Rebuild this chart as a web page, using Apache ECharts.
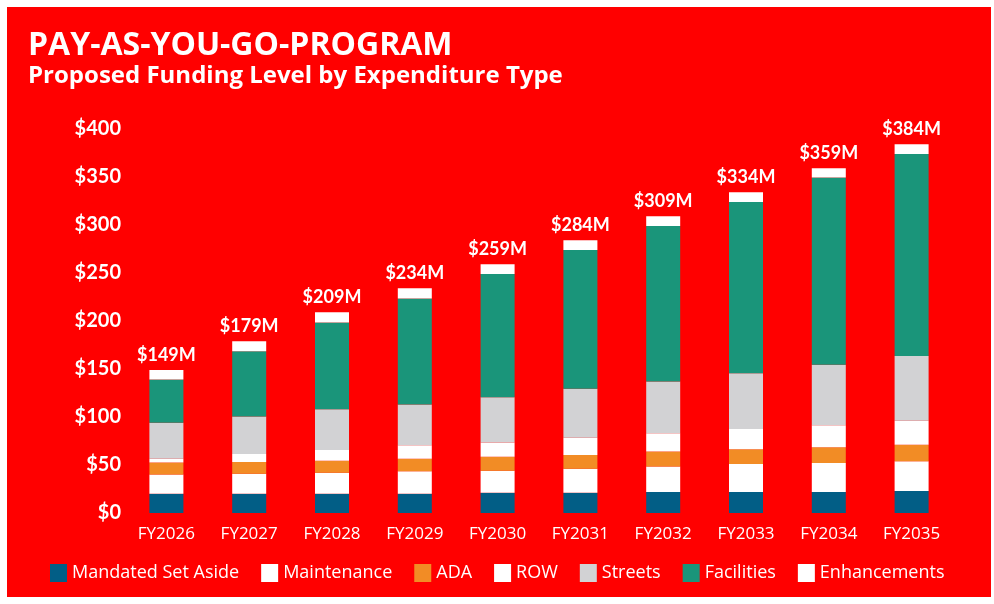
<!DOCTYPE html>
<html>
<head>
<meta charset="utf-8">
<title>PAY-AS-YOU-GO-PROGRAM</title>
<script src="https://cdn.jsdelivr.net/npm/echarts@6/dist/echarts.min.js"></script>
<style>
html, body { margin: 0; padding: 0; background: #fff; }
#main { position: absolute; left: 7px; top: 7px; width: 984px; height: 590px; }
</style>
</head>
<body>
<div id="main"></div>
<script>
// data, $M
var years = ['FY2026', 'FY2027', 'FY2028', 'FY2029', 'FY2030', 'FY2031', 'FY2032', 'FY2033', 'FY2034', 'FY2035'];
var mandated = [20, 20, 20, 20, 21, 21, 22, 22, 22, 23];
var maintenance = [20, 21, 22, 23.5, 23, 25, 26.5, 29, 30, 31];
var ada = [12.5, 12, 12.5, 13, 14.5, 14.5, 15.5, 15.5, 16.5, 17];
var row = [4, 8.5, 11, 14, 15, 18, 19, 21, 23, 25];
var streets = [37.5, 39, 42.5, 42.5, 47, 51, 54, 58, 63, 67.5];
var facilities = [45, 68, 90.5, 110.5, 128.5, 144.5, 162, 178.5, 195, 210.5];
var enhancements = [10, 10.5, 10.5, 10.5, 10, 10, 10, 10, 9.5, 10];
var totals = [149, 179, 209, 234, 259, 284, 309, 334, 359, 384];

var FONT = 'Lato';
var FONT2 = 'Open Sans';

//一段堆叠柱
function seg(name, data, color, label) {
	var s = {
		name: name,
		type: 'bar',
		stack: 'total',
		barWidth: 34,
		data: data,
		itemStyle: { color: color },
		emphasis: { disabled: true }
	};
	if (label) {
		s.label = {
			show: true,
			position: 'top',
			distance: 6,
			color: '#fff',
			fontFamily: FONT,
			fontWeight: 'bold',
			fontSize: 18,
			formatter: function(p) { return '$' + totals[p.dataIndex] + 'M'; }
		};
	}
	return s;
}

var myChart = echarts.init(document.getElementById('main'));
myChart.setOption({
	backgroundColor: '#FF0000',
	animation: false,
	title: {
		text: 'PAY-AS-YOU-GO-PROGRAM',
		subtext: 'Proposed Funding Level by Expenditure Type',
		left: 16,
		top: 18,
		itemGap: 2,
		textStyle: { color: '#fff', fontFamily: FONT2, fontWeight: 'bold', fontSize: 32 },
		subtextStyle: { color: '#fff', fontFamily: FONT2, fontWeight: 'bold', fontSize: 24 }
	},
	legend: {
		left: 38,
		top: 552,
		icon: 'rect',
		itemWidth: 17,
		itemHeight: 18,
		itemGap: 22,
		textStyle: { color: '#fff', fontFamily: FONT2, fontSize: 18 },
		data: ['Mandated Set Aside', 'Maintenance', 'ADA', 'ROW', 'Streets', 'Facilities', 'Enhancements']
	},
	grid: { left: 118, right: 38, top: 122, bottom: 84 },
	xAxis: {
		type: 'category',
		data: years,
		axisLine: { show: false },
		axisTick: { show: false },
		axisLabel: { color: '#fff', fontFamily: FONT2, fontSize: 17, margin: 13 }
	},
	yAxis: {
		type: 'value',
		min: 0,
		max: 400,
		interval: 50,
		splitLine: { show: false },
		axisLine: { show: false },
		axisLabel: {
			color: '#fff', fontFamily: FONT, fontWeight: 'bold', fontSize: 20, margin: 4,
			padding: [0, 0, 6, 0],
			formatter: function(v) { return '$' + v; }
		}
	},
	series: [
		seg('Mandated Set Aside', mandated, '#025E86'),
		seg('Maintenance', maintenance, '#FFFFFF'),
		seg('ADA', ada, '#F28C25'),
		seg('ROW', row, '#FFFFFF'),
		seg('Streets', streets, '#D2D2D4'),
		seg('Facilities', facilities, '#1A957A'),
		seg('Enhancements', enhancements, '#FFFFFF', true)
	]
});
</script>
</body>
</html>
